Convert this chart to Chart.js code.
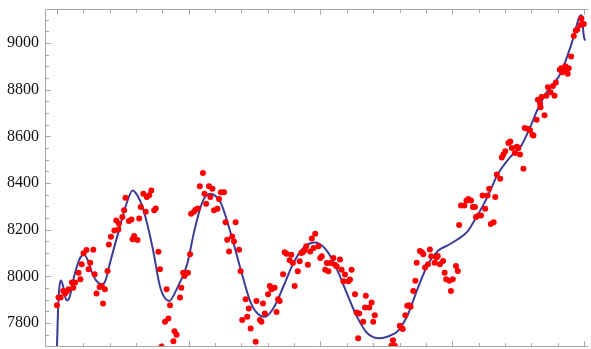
<!DOCTYPE html>
<html>
<head>
<meta charset="utf-8">
<script src="https://cdn.jsdelivr.net/npm/chart.js@4.4.1/dist/chart.umd.min.js"></script>
<style>
  html, body { margin: 0; padding: 0; background: #fff; }
  #wrap { width: 591px; height: 349px; }
</style>
</head>
<body>
<div id="wrap"><canvas id="fitChart"></canvas></div>
<script>
/* ---- observations (red dots) ---- */
const obsX = [
  0.0, 0.6, 1.4, 2.4, 3.1, 3.7, 4.4, 5.7, 6.2, 6.9,
  8.2, 8.9, 9.4, 10.1, 11.2, 12.0, 12.6, 13.8, 14.3, 15.0,
  16.2, 17.0, 17.5, 18.2, 19.2, 19.7, 20.5, 21.8, 22.5, 23.3,
  23.5, 24.8, 25.5, 26.0, 27.3, 28.3, 28.7, 29.3, 30.6, 31.2,
  31.8, 32.8, 33.7, 34.1, 35.0, 35.8, 36.9, 37.5, 38.5, 39.1,
  39.7, 41.0, 41.6, 42.3, 42.9, 44.2, 44.6, 45.4, 46.7, 47.2,
  47.9, 48.4, 49.7, 50.5, 50.9, 52.0, 52.6, 53.5, 54.2, 55.4,
  56.0, 56.6, 57.7, 58.2, 59.0, 59.6, 60.9, 61.5, 62.2, 63.4,
  64.0, 64.6, 65.3, 66.5, 67.2, 67.8, 69.1, 69.7, 70.3, 71.6,
  72.2, 72.8, 73.5, 75.4, 75.7, 77.0, 77.6, 78.2, 78.9, 80.1,
  80.8, 81.4, 82.6, 83.3, 83.9, 84.5, 85.8, 86.4, 87.1, 88.3,
  88.9, 89.5, 90.2, 91.4, 92.1, 92.7, 93.3, 94.0, 94.6, 95.2,
  96.1, 96.7, 97.4, 98.0, 99.2, 99.9, 100.5, 101.8, 102.4, 103.0,
  103.7, 104.9, 105.5, 106.2, 107.4, 108.0, 108.7, 109.3, 110.6, 111.2,
  111.8, 113.1, 113.7, 114.3, 114.7, 116.2, 116.9, 117.2, 118.5, 119.4,
  120.0, 120.6, 126.9, 127.5, 128.2, 130.1, 130.7, 131.2, 132.2, 132.9,
  133.6, 134.2, 135.2, 136.0, 136.5, 137.7, 138.5, 139.0, 139.7, 140.8,
  141.5, 142.0, 143.3, 144.0, 144.5, 145.3, 146.5, 147.1, 147.7, 148.9,
  149.5, 150.2, 151.4, 152.1, 152.6, 153.3, 154.6, 155.4, 156.1, 157.1,
  157.8, 158.6, 159.0, 160.0, 160.9, 161.5, 162.5, 163.4, 164.0, 164.6,
  165.7, 166.3, 166.9, 168.2, 168.8, 169.4, 170.1, 171.3, 172.0, 172.6,
  173.8, 174.5, 175.1, 175.7, 177.0, 177.5, 178.5, 179.5, 180.4, 180.8,
  182.0, 182.5, 183.3, 183.5, 183.9, 185.0, 185.7, 186.3, 187.3, 188.2,
  188.8, 189.3, 190.8, 191.3, 191.8, 192.9, 193.3, 193.8, 194.2, 195.1,
  196.1, 196.9, 197.4, 198.6, 199.0, 199.2, 199.9
];
const obsY = [
  7876, 7910, 7910, 7938, 7927, 7935, 7945, 7974, 7952, 7974,
  8016, 7988, 8052, 8099, 8113, 8031, 8059, 8114, 8009, 7927,
  7955, 7959, 7884, 7945, 8023, 8137, 8170, 8197, 8240, 8201,
  8227, 8254, 8283, 8337, 8237, 8244, 8159, 8173, 8156, 8248,
  8297, 8354, 8277, 8340, 8348, 8368, 8283, 8291, 8106, 8031,
  7700, 7806, 7945, 7820, 7877, 7722, 7765, 7750, 7910, 7952,
  8016, 8002, 8016, 8095, 8268, 8277, 8285, 8291, 8386, 8443,
  8354, 8311, 8386, 8340, 8375, 8283, 8290, 8332, 8361, 8361,
  8232, 8157, 8107, 8171, 8150, 8232, 8114, 8022, 7813, 7902,
  7827, 7863, 7777, 7720, 7895, 7813, 7806, 7884, 7841, 7924,
  7959, 7945, 7952, 7848, 7902, 7895, 8009, 8104, 8097, 8069,
  8093, 8057, 7959, 8022, 8065, 8100, 8104, 8112, 8129, 8050,
  8107, 8162, 8122, 8183, 8129, 8079, 8086, 8029, 8057, 8022,
  8057, 8079, 8050, 8043, 8072, 8029, 7979, 8008, 7979, 7987,
  8029, 7924, 7846, 7735, 7841, 7806, 7867, 7917, 7867, 7888,
  7806, 7834, 7703, 7727, 7703, 7789, 7779, 7775, 7834, 7874,
  7876, 7870, 7938, 7981, 8059, 8109, 8104, 8095, 8038, 8052,
  8115, 8086, 8059, 8081, 8087, 8052, 8066, 8016, 7988, 7981,
  7938, 7988, 8045, 8023, 8220, 8304, 8304, 8325, 8332, 8325,
  8297, 8297, 8254, 8261, 8261, 8347, 8290, 8347, 8375, 8225,
  8232, 8340, 8436, 8418, 8509, 8522, 8536, 8571, 8578, 8550,
  8529, 8555, 8550, 8522, 8461, 8636, 8632, 8626, 8607, 8604,
  8671, 8757, 8740, 8724, 8768, 8690, 8774, 8810, 8789, 8816,
  8774, 8831, 8885, 8892, 8874, 8900, 8883, 8868, 8892, 8942,
  9030, 9053, 9058, 9077, 9105, 9081, 9081
];

/* ---- fitted curve (blue), read at selected x ---- */
const fitX = [
  0, 0.4, 0.9, 1.5, 2.3, 3.2, 4.0, 4.9, 6.0, 7.5,
  9.1, 10.4, 11.7, 13.2, 14.7, 17.2, 18.5, 20.0, 23.8, 26.3,
  28.7, 30.6, 32.6, 36.3, 38.9, 40.1, 42.6, 45.7, 49.4, 52.1,
  54.6, 56.2, 58.4, 60.4, 62.2, 65.9, 69.7, 73.5, 77.3, 79.1,
  82.3, 86.0, 89.8, 93.6, 98.0, 102.4, 106.2, 109.9, 113.7, 117.5,
  122.5, 127.6, 129.4, 133.2, 137.0, 140.8, 144.5, 148.3, 152.1, 155.9,
  159.0, 162.2, 164.6, 167.2, 172.2, 176.0, 179.7, 182.3, 186.0, 188.6,
  191.1, 193.6, 196.1, 198.4, 199.1, 199.9, 200.4
];
const fitY = [
  7695, 7850, 7950, 7982, 7960, 7910, 7897, 7915, 7975, 8040,
  8085, 8092, 8070, 8020, 7985, 7965, 7985, 8052, 8209, 8308,
  8368, 8345, 8293, 8123, 7966, 7924, 7895, 7952, 8052, 8194,
  8300, 8340, 8354, 8342, 8315, 8187, 8031, 7888, 7831, 7827,
  7867, 7959, 8059, 8123, 8145, 8110, 8031, 7931, 7831, 7760,
  7735, 7753, 7767, 7838, 7952, 8052, 8109, 8133, 8159, 8194,
  8251, 8315, 8372, 8436, 8514, 8557, 8643, 8714, 8792, 8827,
  8870, 8942, 9027, 9115, 9118, 9030, 9010
];

/* ---- axes ---- */
const yTickLabels = [7800, 8000, 8200, 8400, 8600, 8800, 9000];
const yMinorStep = 50;
const xMinorStep = 10;
const xMajorStep = 50;

const frameColor = "#a8a8a8";

// Mathematica-like frame: gray lines with inward ticks
const frameTicks = {
  id: "frameTicks",
  beforeDatasetsDraw(chart) {
    const { ctx, chartArea: a, scales: { x, y } } = chart;
    ctx.save();
    ctx.strokeStyle = frameColor;
    ctx.lineWidth = 1;
    ctx.beginPath();
    ctx.moveTo(a.left - 0.5, a.bottom + 0.5);
    ctx.lineTo(a.left - 0.5, a.top - 0.5);
    ctx.lineTo(a.right, a.top - 0.5);
    ctx.moveTo(a.left - 0.5, a.bottom + 0.5);
    ctx.lineTo(a.right, a.bottom + 0.5);

    for (let v = 7750; v <= y.max; v += yMinorStep) {
      const py = Math.round(y.getPixelForValue(v)) + 0.5;
      const len = v % 200 === 0 ? 5 : 3;
      ctx.moveTo(a.left, py);
      ctx.lineTo(a.left + len, py);
    }
    for (let v = 0; v <= x.max; v += xMinorStep) {
      const px = Math.round(x.getPixelForValue(v)) + 0.5;
      const len = v % xMajorStep === 0 ? 5 : 3;
      ctx.moveTo(px, a.top);
      ctx.lineTo(px, a.top + len);
      ctx.moveTo(px, a.bottom);
      ctx.lineTo(px, a.bottom - len);
    }
    ctx.stroke();
    ctx.restore();
  }
};

new Chart(document.getElementById("fitChart"), {
  type: "scatter",
  data: {
    datasets: [
      {
        label: "data",
        data: obsX.map((v, i) => ({ x: v, y: obsY[i] })),
        backgroundColor: "#ff0000",
        borderWidth: 0,
        pointRadius: 3,
        pointHoverRadius: 3,
        order: 0
      },
      {
        label: "fit",
        type: "line",
        data: fitX.map((v, i) => ({ x: v, y: fitY[i] })),
        borderColor: "#3d3d99",
        borderWidth: 2,
        pointRadius: 0,
        cubicInterpolationMode: "monotone",
        fill: false,
        order: 1
      }
    ]
  },
  options: {
    responsive: true,
    maintainAspectRatio: false,
    animation: false,
    layout: { padding: { top: 10, bottom: 2, left: 0, right: 0 } },
    plugins: {
      legend: { display: false },
      tooltip: { enabled: false }
    },
    scales: {
      x: {
        type: "linear",
        display: false,
        min: -4.15,
        max: 201.5
      },
      y: {
        type: "linear",
        min: 7702,
        max: 9141,
        afterBuildTicks: (s) => { s.ticks = yTickLabels.map((v) => ({ value: v })); },
        afterFit: (s) => {
          s.width = 46;
          s.paddingTop = 0;
          s.paddingBottom = 0;
        },
        grid: { display: false, drawTicks: false },
        border: { display: false },
        ticks: {
          padding: 7,
          color: "#111",
          font: { family: "'Liberation Serif', serif", size: 16 },
          callback: (v) => String(v)
        }
      }
    }
  },
  plugins: [frameTicks]
});
</script>
</body>
</html>
